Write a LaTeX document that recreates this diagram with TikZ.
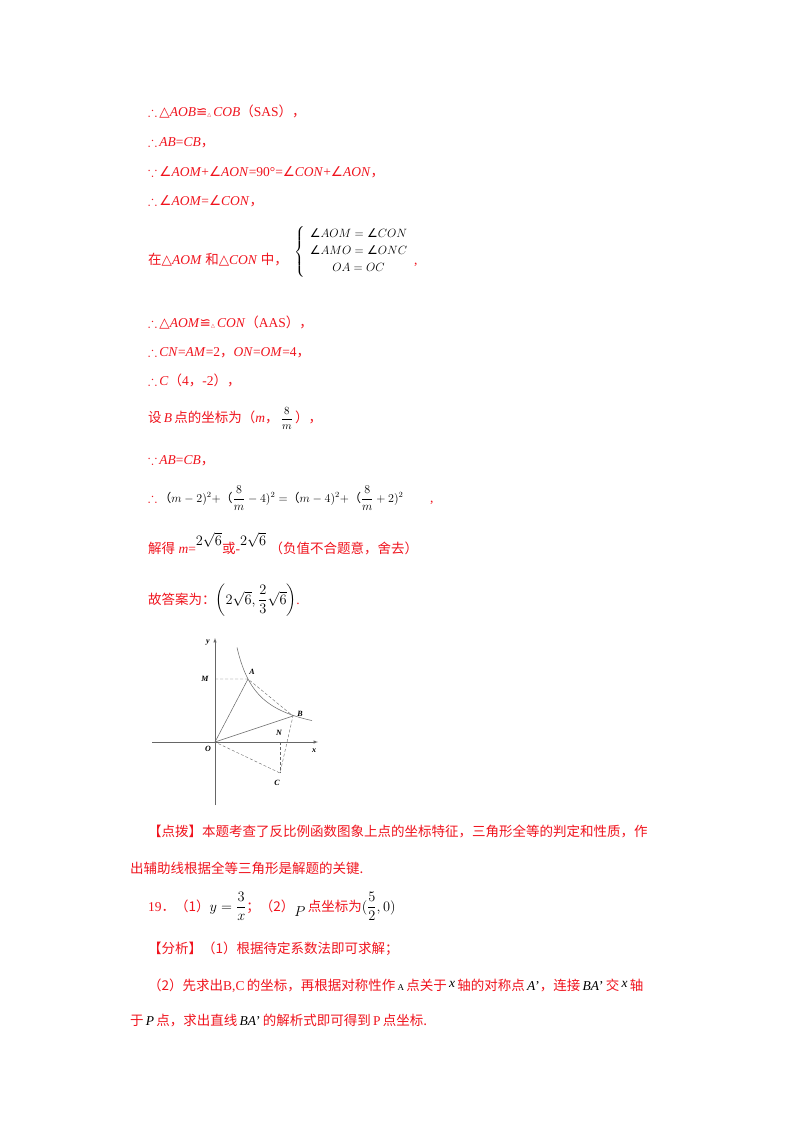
\documentclass[tikz,border=0pt]{standalone}
\usepackage{amsmath,amssymb}
\usepackage{fontspec}
\setmainfont{Liberation Serif}
\newfontfamily\cjk{Noto Sans CJK SC}
\newfontfamily\djv{DejaVu Sans}
\newcommand{\ang}{{\djv ∠}}
\newcommand{\tri}{{\djv △}}
\newcommand{\mycong}{{\djv ≌}}
\definecolor{rd}{RGB}{240,20,30}
\tikzset{ln/.style={anchor=base west,inner sep=0pt,font=\fontsize{13.5}{16}\selectfont,text=rd},
 bk/.style={anchor=base west,inner sep=0pt,font=\fontsize{12}{14}\selectfont},
 lab/.style={font=\fontsize{8}{9}\selectfont\bfseries\itshape,inner sep=1pt},
 dsh/.style={densely dashed,gray!80!black,line width=0.4pt},
 sld/.style={gray!80!black,line width=0.5pt}}
\begin{document}
\begin{tikzpicture}[x=1pt,y=-1pt]
\useasboundingbox (0,0) rectangle (800,1132);
\fill[white] (0,0) rectangle (800,1132);
\node[ln] (l1) at (148,116) {$\therefore$\,\tri\textit{AOB}\mycong{\tiny\djv △}\,\textit{COB}{\cjk（}SAS{\cjk ）}{\cjk ，}};
\node[ln] (l2) at (148,146) {$\therefore$\,\textit{AB}=\textit{CB}{\cjk ，}};
\node[ln] (l3) at (148,176) {$\because$\,\ang\textit{AOM}+\ang\textit{AON}=90°=\ang\textit{CON}+\ang\textit{AON}{\cjk ，}};
\node[ln] (l4) at (148,205) {$\therefore$\,\ang\textit{AOM}=\ang\textit{CON}{\cjk ，}};
\node[ln] (l5) at (148,264) {{\cjk 在}\tri\textit{AOM} {\cjk 和}\tri\textit{CON} {\cjk 中，}};
\node[bk,anchor=west] (sys) at (294,252) {$\left\{\begin{array}{c}\text{\ang}AOM=\text{\ang}CON\\[3pt] \text{\ang}AMO=\text{\ang}ONC\\[3pt] OA=OC\end{array}\right.$};
\node[ln] (c5) at (414,264) {,};
\node[ln] (l6) at (148,327) {$\therefore$\,\tri\textit{AOM}\mycong{\tiny\djv △}\,\textit{CON}{\cjk（}AAS{\cjk ）}{\cjk ，}};
\node[ln] (l7) at (148,356) {$\therefore$\,\textit{CN}=\textit{AM}=2{\cjk ，}\textit{ON}=\textit{OM}=4{\cjk ，}};
\node[ln] (l8) at (148,385) {$\therefore$\,\textit{C}{\cjk（}4{\cjk ，}-2{\cjk ）}{\cjk ，}};
\node[ln] (l9) at (148,422) {{\cjk 设}\,\textit{B}\,{\cjk 点的坐标为（}\textit{m}{\cjk ，}\,\textcolor{black}{\fontsize{11}{12}\selectfont$\dfrac{8}{m}$}\,{\cjk ）}{\cjk ，}};
\node[ln] (l10) at (148,464) {$\because$\,\textit{AB}=\textit{CB}{\cjk ，}};
\node[ln] (l11) at (148,502) {\textbf{$\therefore$}\,\textcolor{black}{\fontsize{12}{14}\selectfont{\cjk（}$m-2)^2+${\cjk（}$\dfrac{8}{m}-4)^2=${\cjk（}$m-4)^2+${\cjk（}$\dfrac{8}{m}+2)^2$}};
\node[ln] (c11) at (430,502) {,};
\node[ln] (l12) at (148,553) {{\cjk 解得} \textit{m}=\raisebox{8pt}{\textcolor{black}{$2\sqrt{6}$}}{\cjk 或}-\raisebox{8pt}{\textcolor{black}{$2\sqrt{6}$}}\ {\cjk（负值不合题意，舍去）}};
\node[ln] (l13) at (148,604) {{\cjk 故答案为：}\textcolor{black}{$\left(2\sqrt{6},\dfrac{2}{3}\sqrt{6}\right)$}.};
% figure
\coordinate (O) at (215,742);
\coordinate (A) at (248,679);
\coordinate (B) at (293,716);
\coordinate (C) at (280,773);
\coordinate (N) at (280,742);
\coordinate (M) at (215,679);
\draw[sld,-latex] (152,742) -- (318,742) coordinate (xe);
\draw[sld,-latex] (215,805) -- (215,638) coordinate (ye);
\draw[sld] plot[domain=22:97,samples=60,smooth] ({215+\x},{742-2080/\x});
\draw[sld] (O) -- (A); \draw[sld] (O) -- (B);
\draw[dsh] (M) -- (A) -- (B) -- (C) -- (O);
\draw[dsh] (N) -- (C);
\node[lab] at (208,643) {y};
\node[lab] at (205,679) {M};
\node[lab] at (252,672) {A};
\node[lab] at (300,714) {B};
\node[lab] at (279,733) {N};
\node[lab] at (208,749) {O};
\node[lab] at (314,751) {x};
\node[lab] at (277,783) {C};
\node[ln] (l14) at (148,836) {{\cjk 【点拨】本题考查了反比例函数图象上点的坐标特征，三角形全等的判定和性质，作}};
\node[ln] (l15) at (130,873) {{\cjk 出辅助线根据全等三角形是解题的关键.}};
\node[ln] (l16) at (148,911) {19{\cjk ．（1）}\textcolor{black}{$y=\dfrac{3}{x}$}{\cjk ；（2）}\raisebox{-5pt}{\textcolor{black}{$P$}}\,{\cjk 点坐标为}\textcolor{black}{$(\dfrac{5}{2},0)$}};
\node[ln] (l17) at (148,953) {{\cjk 【分析】（1）根据待定系数法即可求解；}};
\node[ln] (l18) at (148,990) {{\cjk（2）先求出}B,C\,{\cjk 的坐标，再根据对称性作}\,\textcolor{black}{\small A}\,{\cjk 点关于}\,\raisebox{3pt}{\textcolor{black}{\textit{x}}}\,{\cjk 轴的对称点}\,\textcolor{black}{\textit{A}'}{\cjk ，连接}\,\textcolor{black}{\textit{BA}'}\,{\cjk 交}\,\raisebox{3pt}{\textcolor{black}{\textit{x}}}\,{\cjk 轴}};
\node[ln] (l19) at (130,1025) {{\cjk 于}\,\textcolor{black}{\textit{P}}\,{\cjk 点，求出直线}\,\textcolor{black}{\textit{BA}'}\,{\cjk 的解析式即可得到}\,P\,{\cjk 点坐标.}};
\end{tikzpicture}
\end{document}
